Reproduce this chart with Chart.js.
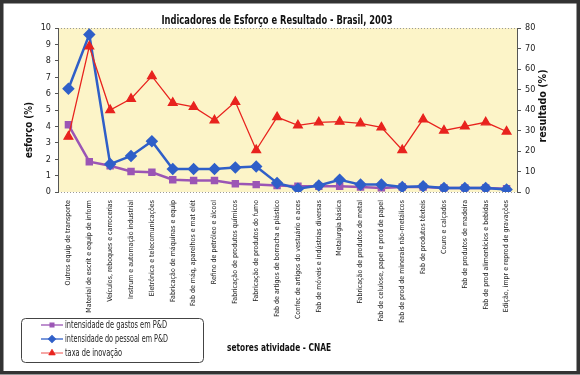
<!DOCTYPE html>
<html>
<head>
<meta charset="utf-8">
<script src="https://cdn.jsdelivr.net/npm/chart.js@4.4.0/dist/chart.umd.min.js"></script>
<style>
  body { margin: 0; background: #fff; }
  #wrap { width: 580px; height: 375px; }
</style>
</head>
<body>
<div id="wrap"><canvas id="myChart" width="580" height="375"></canvas></div>
<script>
const setores = [
  'Outros equip de transporte',
  'Material de escrit e equip de inform',
  'Veículos, reboques e carrocerias',
  'Instrum e automação industrial',
  'Eletrônica e telecomunicações',
  'Fabricação de máquinas e equip',
  'Fab de máq, aparelhos e mat elét',
  'Refino de petróleo e álcool',
  'Fabricação de produtos químicos',
  'Fabricação de produtos do fumo',
  'Fab de artigos de borracha e plástico',
  'Confec de artigos do vestuário e aces',
  'Fab de móveis e indústrias diversas',
  'Metalurgia básica',
  'Fabricação de produtos de metal',
  'Fab de celulose, papel e prod de papel',
  'Fab de prod de minerais não-metálicos',
  'Fab de produtos têxteis',
  'Couro e calçados',
  'Fab de produtos de madeira',
  'Fab de prod alimentícios e bebidas',
  'Edição, impr e reprod de gravações'
];

// esforço (%) - eixo esquerdo
const gastosPD = [4.1, 1.85, 1.6, 1.25, 1.2, 0.75, 0.7, 0.7, 0.5, 0.45, 0.4, 0.35, 0.35, 0.35, 0.3, 0.25, 0.3, 0.3, 0.25, 0.25, 0.25, 0.2];
const pessoalPD = [6.3, 9.6, 1.7, 2.2, 3.1, 1.4, 1.4, 1.4, 1.5, 1.55, 0.55, 0.2, 0.4, 0.75, 0.45, 0.45, 0.3, 0.35, 0.25, 0.25, 0.25, 0.15];
// resultado (%) - eixo direito
const taxaInovacao = [27, 71, 40, 45.5, 56.5, 43.5, 41.5, 35, 44, 20.5, 36.5, 32.5, 34, 34.3, 33.5, 31.5, 20.5, 35.5, 30, 32, 34, 29.5];

const esforcoTicks = [0, 10];
const resultadoTicks = [0, 80];

const FONT = "'Liberation Sans Narrow', 'DejaVu Sans Condensed', 'Liberation Sans', sans-serif";

// texto comprimido na horizontal para caber numa largura
function fitText(ctx, text, x, y, w, rot) {
  const m = ctx.measureText(text).width;
  ctx.save();
  ctx.translate(x, y);
  if (rot) ctx.rotate(rot);
  ctx.scale(w / m, 1);
  ctx.fillText(text, 0, 0);
  ctx.restore();
}

// fundo amarelo, moldura, titulos e legenda
const decor = {
  id: 'decor',
  beforeDraw(chart) {
    const ctx = chart.ctx;
    const a = chart.chartArea;
    ctx.save();
    ctx.fillStyle = '#fff';
    ctx.fillRect(0, 0, chart.width, chart.height);
    ctx.fillStyle = '#fcf4c8';
    ctx.fillRect(a.left, a.top, a.right - a.left, a.bottom - a.top);
    ctx.strokeStyle = '#9a9a9a';
    ctx.lineWidth = 1;
    ctx.setLineDash([1, 2]);
    ctx.beginPath();
    ctx.moveTo(a.left, a.top + 0.5); ctx.lineTo(a.right, a.top + 0.5);
    ctx.moveTo(a.left, a.bottom + 0.5); ctx.lineTo(a.right, a.bottom + 0.5);
    ctx.stroke();
    ctx.restore();
  },
  afterDraw(chart) {
    const ctx = chart.ctx;
    ctx.save();
    // moldura
    ctx.strokeStyle = '#333';
    ctx.lineWidth = 3.5;
    ctx.strokeRect(1.75, 1.75, chart.width - 3.5, chart.height - 4);

    ctx.fillStyle = '#111';
    ctx.textAlign = 'center';
    ctx.textBaseline = 'middle';
    ctx.font = 'bold 12px ' + FONT;
    fitText(ctx, 'Indicadores de Esforço e Resultado - Brasil, 2003', 277, 21, 231);

    ctx.font = 'bold 11px ' + FONT;
    fitText(ctx, 'esforço (%)', 29, 130, 56, -Math.PI / 2);
    fitText(ctx, 'resultado (%)', 543, 106, 73, -Math.PI / 2);

    ctx.textAlign = 'left';
    ctx.font = 'bold 10.5px ' + FONT;
    fitText(ctx, 'setores atividade - CNAE', 227, 348, 104);

    // legenda
    ctx.strokeStyle = '#444';
    ctx.lineWidth = 1;
    ctx.beginPath();
    ctx.roundRect(21.5, 318.5, 182, 44, 4);
    ctx.stroke();

    const rows = [0, 1, 2];
    const widths = [102, 103, 57];
    rows.forEach((i) => {
      const ds = chart.data.datasets[i];
      const y = 325 + i * 14;
      ctx.strokeStyle = ds.borderColor;
      ctx.lineWidth = i === 2 ? 0.8 : 1.3;
      ctx.beginPath();
      ctx.moveTo(41, y); ctx.lineTo(63, y);
      ctx.stroke();
      ctx.fillStyle = ds.pointBackgroundColor;
      Chart.helpers.drawPoint(ctx, {
        pointStyle: ds.pointStyle, radius: ds.pointRadius * 0.75, borderWidth: 1, rotation: 0
      }, 52, y);
      ctx.fillStyle = '#222';
      ctx.font = '10px ' + FONT;
      fitText(ctx, ds.label, 65, y + 0.5, widths[i]);
    });
    ctx.restore();
  }
};

new Chart(document.getElementById('myChart'), {
  type: 'line',
  data: {
    labels: setores,
    datasets: [
      {
        label: 'intensidade de gastos em P&D',
        data: gastosPD,
        yAxisID: 'y',
        borderColor: '#9b55b5',
        backgroundColor: '#9b55b5',
        pointBackgroundColor: '#9b55b5',
        pointBorderColor: '#9b55b5',
        borderWidth: 2.5,
        pointStyle: 'rect',
        pointRadius: 3.5,
        order: 2
      },
      {
        label: 'intensidade do pessoal em P&D',
        data: pessoalPD,
        yAxisID: 'y',
        borderColor: '#2f5fc8',
        backgroundColor: '#2f5fc8',
        pointBackgroundColor: '#2f5fc8',
        pointBorderColor: '#2f5fc8',
        borderWidth: 2.5,
        pointStyle: 'rectRot',
        pointRadius: 4.5,
        order: 1
      },
      {
        label: 'taxa de inovação',
        data: taxaInovacao,
        yAxisID: 'y1',
        borderColor: '#e8231e',
        backgroundColor: '#e8231e',
        pointBackgroundColor: '#e8231e',
        pointBorderColor: '#e8231e',
        borderWidth: 1.3,
        pointStyle: 'triangle',
        pointRadius: 5,
        order: 0
      }
    ]
  },
  options: {
    responsive: false,
    animation: false,
    layout: { padding: { top: 28, left: 0, right: 0, bottom: 0 } },
    plugins: {
      legend: { display: false },
      title: { display: false },
      tooltip: { enabled: false }
    },
    elements: { line: { tension: 0 } },
    scales: {
      x: {
        offset: true,
        grid: { display: false, drawTicks: false },
        border: { display: false },
        ticks: {
          autoSkip: false,
          minRotation: 90,
          maxRotation: 90,
          padding: 8,
          color: '#222',
          font: { family: FONT, size: 7 }
        },
        afterFit(scale) { scale.height = 183; }
      },
      y: {
        position: 'left',
        min: esforcoTicks[0],
        max: esforcoTicks[1],
        ticks: { stepSize: 1, padding: 4, color: '#222', font: { family: FONT, size: 9 } },
        grid: { drawOnChartArea: false, tickLength: 3, color: '#555' },
        border: { color: '#555', width: 1 },
        afterFit(scale) { scale.width = 58; }
      },
      y1: {
        position: 'right',
        min: resultadoTicks[0],
        max: resultadoTicks[1],
        ticks: { stepSize: 10, padding: 4, color: '#222', font: { family: FONT, size: 9 } },
        grid: { drawOnChartArea: false, tickLength: 4, color: '#555' },
        border: { color: '#555', width: 1 },
        afterFit(scale) { scale.width = 63; }
      }
    }
  },
  plugins: [decor]
});
</script>
</body>
</html>
